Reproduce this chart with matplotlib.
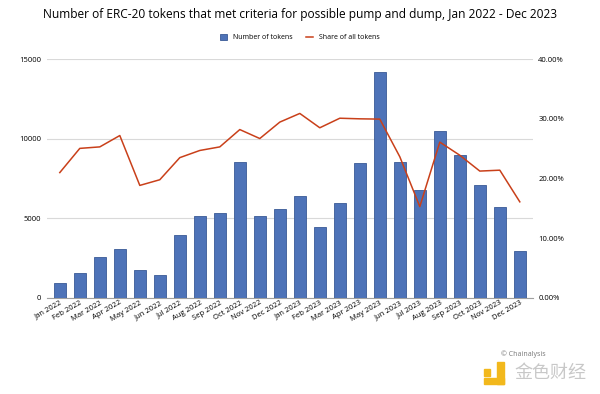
import numpy as np
import matplotlib.pyplot as plt
from matplotlib.patches import Rectangle

months = ['Jan 2022', 'Feb 2022', 'Mar 2022', 'Apr 2022', 'May 2022', 'Jun 2022',
          'Jul 2022', 'Aug 2022', 'Sep 2022', 'Oct 2022', 'Nov 2022', 'Dec 2022',
          'Jan 2023', 'Feb 2023', 'Mar 2023', 'Apr 2023', 'May 2023', 'Jun 2023',
          'Jul 2023', 'Aug 2023', 'Sep 2023', 'Oct 2023', 'Nov 2023', 'Dec 2023']
num_tokens = [950, 1600, 2600, 3100, 1750, 1450, 3950, 5150, 5350, 8530, 5130, 5580,
              6400, 4430, 5960, 8490, 14160, 8530, 6780, 10460, 8970, 7110, 5690, 2950]
share_pct = [21.0, 25.05, 25.3, 27.2, 18.85, 19.8, 23.5, 24.7, 25.3, 28.2, 26.7, 29.45,
             30.9, 28.5, 30.1, 30.0, 29.95, 23.65, 15.3, 26.1, 23.9, 21.25, 21.4, 16.1]

bar_col = '#4e73b8'
line_col = '#c9401a'
plt.rcParams['font.family'] = ['Open Sans', 'DejaVu Sans']

fig = plt.figure(figsize=(6, 3.94), dpi=100)
ax = fig.add_axes([0.078, 0.2437, 0.81, 0.6063])
x = np.arange(len(months))

ax.bar(x, num_tokens, width=0.6, color=bar_col, edgecolor='#3a5a96', linewidth=0.6,
       label='Number of tokens', zorder=3)
ax.set_ylim(0, 15000)
ax.set_yticks([0, 5000, 10000, 15000])
ax.set_xlim(-0.65, 23.65)
ax.grid(axis='y', color='#d9d9d9', linewidth=0.8, zorder=0)
ax.set_axisbelow(True)
for s in ['top', 'right', 'left']:
    ax.spines[s].set_visible(False)
ax.spines['bottom'].set_color('#a0a0a0')
ax.tick_params(axis='y', length=0, labelsize=5.5, pad=4)
ax.tick_params(axis='x', length=0, labelsize=5.5, pad=1)
ax.set_xticks(x)
ax.set_xticklabels(months, rotation=30, ha='right', rotation_mode='anchor')

ax2 = ax.twinx()
ax2.plot(x, share_pct, color=line_col, linewidth=1.1, label='Share of all tokens', zorder=4)
ax2.set_ylim(0, 40)
ax2.set_yticks([0, 10, 20, 30, 40])
ax2.set_yticklabels(['%.2f%%' % v for v in [0, 10, 20, 30, 40]])
ax2.tick_params(axis='y', length=0, labelsize=5.5, pad=4)
for s in ['top', 'right', 'left', 'bottom']:
    ax2.spines[s].set_visible(False)

h1, l1 = ax.get_legend_handles_labels()
h2, l2 = ax2.get_legend_handles_labels()
fig.legend(h1 + h2, l1 + l2, loc='center', bbox_to_anchor=(0.5, 0.904), ncol=2,
           frameon=False, fontsize=5, handlelength=1.0, handleheight=0.8,
           columnspacing=2.0, handletextpad=0.8)

fig.text(0.5, 0.962, 'Number of ERC-20 tokens that met criteria for possible pump and dump, Jan 2022 - Dec 2023',
         ha='center', va='center', fontsize=8.6)
fig.text(0.872, 0.101, '© Chainalysis', ha='center', va='center', fontsize=5, color='#777777')

# watermark logo
for rx, ry, rw, rh in [(0.807, 0.0457, 0.01, 0.018), (0.828, 0.0254, 0.012, 0.056),
                       (0.807, 0.0254, 0.033, 0.015)]:
    fig.patches.append(Rectangle((rx, ry), rw, rh, transform=fig.transFigure,
                                 color='#f2b81c', zorder=5))
fig.text(0.917, 0.053, '金色财经', ha='center', va='center', fontsize=13, color='#c8c8c8',
         family=['Noto Sans CJK SC', 'DejaVu Sans'])

fig.savefig('out.png', dpi=100)
